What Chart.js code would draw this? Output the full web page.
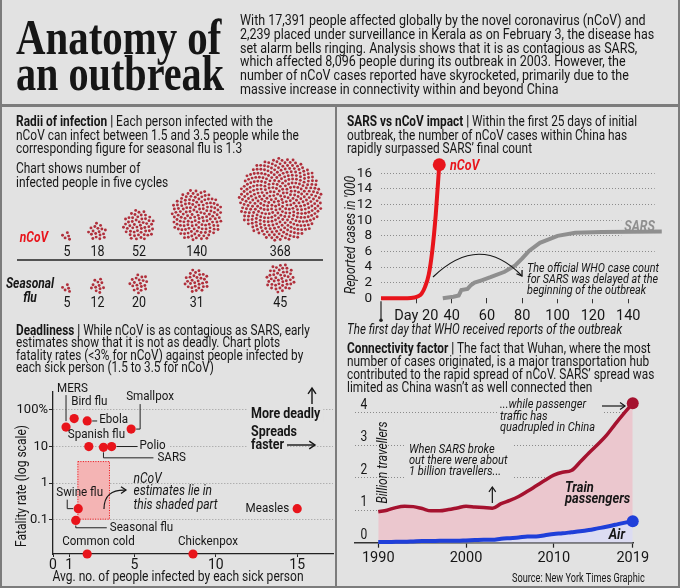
<!DOCTYPE html>
<html lang="en">
<head>
<meta charset="utf-8">
<title>Anatomy of an outbreak</title>
<script src="https://cdn.jsdelivr.net/npm/chart.js@4.4.1/dist/chart.umd.min.js"></script>
<style>
html,body{margin:0;padding:0;background:#e2e2e2;}
#page{position:relative;width:680px;height:588px;overflow:hidden;background:#e2e2e2;color:#161616;font-family:Roboto,"Noto Sans",sans-serif;}
#page canvas{position:absolute;left:0;top:0;}
.rule{position:absolute;background:#7c7c7c;}
.blk{position:absolute;white-space:nowrap;transform-origin:0 0;font-size:15px;line-height:13.4px;}
.blk b{font-weight:700;}
.ttl{font-family:"Liberation Serif","DejaVu Serif",serif;font-weight:700;font-size:51px;line-height:40px;}
.it{font-style:italic;}
</style>
</head>
<body>
<div id="page">
<canvas id="cRadii" width="680" height="588"></canvas>
<canvas id="cDead" width="680" height="588"></canvas>
<canvas id="cSars" width="680" height="588"></canvas>
<canvas id="cConn" width="680" height="588"></canvas>

<div class="rule" style="left:0;top:0;width:2px;height:588px"></div>
<div class="rule" style="left:678px;top:0;width:2px;height:588px"></div>
<div class="rule" style="left:0;top:586px;width:680px;height:2px"></div>
<div class="rule" style="left:0;top:104px;width:680px;height:3px"></div>
<div class="rule" style="left:335px;top:105px;width:2px;height:483px"></div>

<div class="blk ttl" data-w="205" style="left:16px;top:17px">Anatomy of</div>
<div class="blk ttl" data-w="208" style="left:16px;top:53px">an outbreak</div>

<div class="blk" data-w="414" style="left:240px;top:14px;font-size:15.5px;line-height:13.8px">
<div>With 17,391 people affected globally by the novel coronavirus (nCoV) and</div>
<div>2,239 placed under surveillance in Kerala as on February 3, the disease has</div>
<div>set alarm bells ringing. Analysis shows that it is as contagious as SARS,</div>
<div>which affected 8,096 people during its outbreak in 2003. However, the</div>
<div>number of nCoV cases reported have skyrocketed, primarily due to the</div>
<div>massive increase in connectivity within and beyond China</div>
</div>

<div class="blk" data-w="283" style="left:16px;top:115.3px;line-height:13.3px">
<div><b>Radii of infection |</b> Each person infected with the</div>
<div>nCoV can infect between 1.5 and 3.5 people while the</div>
<div>corresponding figure for seasonal flu is 1.3</div>
</div>
<div class="blk" data-w="152" style="left:16px;top:161px;line-height:14px">
<div>Chart shows number of</div>
<div>infected people in five cycles</div>
</div>

<div class="blk" data-w="294" style="left:16px;top:323.7px;line-height:12.6px">
<div><b>Deadliness |</b> While nCoV is as contagious as SARS, early</div>
<div>estimates show that it is not as deadly. Chart plots</div>
<div>fatality rates (&lt;3% for nCoV) against people infected by</div>
<div>each sick person (1.5 to 3.5 for nCoV)</div>
</div>

<div class="blk" data-w="290" style="left:347px;top:115px;line-height:13.6px">
<div><b>SARS vs nCoV impact |</b> Within the first 25 days of initial</div>
<div>outbreak, the number of nCoV cases within China has</div>
<div>rapidly surpassed SARS’ final count</div>
</div>
<div class="blk it" data-w="275" style="left:347px;top:322px;line-height:14px">
<div>The first day that WHO received reports of the outbreak</div>
</div>

<div class="blk" data-w="307" style="left:347px;top:341.8px;line-height:13px">
<div><b>Connectivity factor |</b> The fact that Wuhan, where the most</div>
<div>number of cases originated, is a major transportation hub</div>
<div>contributed to the rapid spread of nCoV. SARS’ spread was</div>
<div>limited as China wasn’t as well connected then</div>
</div>

<div class="blk" data-w="133" style="left:512px;top:571px;font-size:12px;line-height:14px">
<div>Source: New York Times Graphic</div>
</div>
</div>

<script>
// ================= DATA =================
// Radii of infection: infected people after each of five cycles
const radiiCycles = ['Cycle 1', 'Cycle 2', 'Cycle 3', 'Cycle 4', 'Cycle 5'];
const ncovInfected = [5, 18, 52, 140, 368];
const fluInfected = [5, 12, 20, 31, 45];

// Deadliness
const diseases = ['MERS', 'Bird flu', 'Ebola', 'Smallpox', 'Spanish flu', 'SARS', 'Polio', 'Swine flu', 'Seasonal flu', 'Common cold', 'Chickenpox', 'Measles'];
const infectedPerSickPerson = [0.8, 1.3, 2.1, 4.8, 2.2, 3.1, 3.6, 1.55, 1.4, 2.1, 8.6, 15];
const fatalityRatePct = [34, 58, 50, 30, 10, 9.5, 10, 0.2, 0.095, 0.0115, 0.0115, 0.2];
const ncovInfectedRange = [1.5, 3.5];
const ncovFatalityRange = [0.1, 4];
const deadXTicks = [0, 1, 5, 10, 15];
const deadYTicks = [0.1, 1, 10, 100];

// SARS vs nCoV: reported cases ('000) by day of outbreak
const ncovDays = [0, 15, 19, 21, 23, 25, 27, 29, 31, 33];
const ncovCases = [0, 0, 0.1, 0.25, 0.6, 1.5, 3.0, 6.0, 10.7, 17.1];
const sarsDays = [35, 41, 44, 45.5, 49, 51, 53, 57, 62, 70, 76, 80, 84, 90, 100, 110, 125, 159];
const sarsCases = [0, 0.2, 0.35, 1.05, 1.2, 1.7, 2.0, 2.3, 2.7, 3.4, 4.2, 5.1, 6.1, 7.1, 8.0, 8.4, 8.5, 8.55];
const sarsXTicks = [20, 40, 60, 80, 100, 120, 140];
const sarsYTicks = [0, 2, 4, 6, 8, 10, 12, 14, 16];

// Connectivity: billion travellers in China
const years = [1990, 1991, 1992, 1993, 1994, 1995, 1996, 1997, 1998, 1999, 2000, 2001, 2002, 2003, 2004, 2005, 2006, 2007, 2008, 2009, 2010, 2011, 2012, 2013, 2014, 2015, 2016, 2017, 2018, 2019];
const airPassengers = [0.02, 0.02, 0.03, 0.03, 0.04, 0.05, 0.05, 0.06, 0.06, 0.06, 0.07, 0.08, 0.09, 0.09, 0.12, 0.14, 0.16, 0.19, 0.19, 0.23, 0.27, 0.29, 0.32, 0.35, 0.39, 0.44, 0.49, 0.55, 0.61, 0.66];
const trainPassengers = [0.93, 0.98, 1.05, 1.09, 1.07, 1.00, 0.93, 0.92, 0.96, 1.01, 1.05, 1.02, 0.99, 0.97, 1.08, 1.16, 1.26, 1.39, 1.56, 1.69, 1.81, 1.88, 1.90, 2.13, 2.37, 2.58, 2.81, 3.10, 3.37, 3.63];
const connXTicks = [1990, 2000, 2010, 2019];
const connYTicks = [0, 1, 2, 3, 4];

// ================= HELPERS =================
const INK = '#161616', BG = '#e2e2e2', COND = 0.86;
const FF = 'Roboto, "Noto Sans", sans-serif';
Chart.defaults.font.family = FF;
Chart.defaults.color = INK;
Chart.defaults.animation = false;
Chart.defaults.responsive = false;
Chart.defaults.plugins.legend.display = false;
Chart.defaults.plugins.tooltip.enabled = false;
Chart.defaults.events = [];

function fontStr(o) { return (o.italic ? 'italic ' : '') + (o.bold ? '700 ' : '400 ') + (o.size || 13) + 'px ' + FF; }
function box(ctx, s, x, o) {
  ctx.font = fontStr(o);
  const k = o.k || COND;
  const w = ctx.measureText(s).width * k;
  const x0 = o.align === 'center' ? x - w / 2 : o.align === 'right' ? x - w : x;
  return { x0, w, k };
}
function T(ctx, s, x, y, o = {}) {
  ctx.save();
  const { x0, k } = box(ctx, s, x, o);
  ctx.fillStyle = o.color || INK;
  ctx.textBaseline = 'middle'; ctx.textAlign = 'left';
  ctx.translate(x0, y); ctx.scale(k, 1);
  ctx.fillText(s, 0, 0);
  ctx.restore();
}
function M(ctx, s, x, y, o = {}) {
  ctx.save();
  const { x0, w } = box(ctx, s, x, o);
  const sz = o.size || 13;
  ctx.fillStyle = BG;
  ctx.fillRect(x0 - 3, y - sz * 0.62, w + 6, sz * 1.24);
  ctx.restore();
}
function TR(ctx, s, x, y, o = {}) {
  ctx.save();
  ctx.font = fontStr(o);
  const k = o.k || COND;
  const w = ctx.measureText(s).width;
  ctx.fillStyle = o.color || INK;
  ctx.textBaseline = 'middle'; ctx.textAlign = 'left';
  ctx.translate(x, y); ctx.rotate(-Math.PI / 2); ctx.scale(k, 1);
  ctx.fillText(s, -w / 2, 0);
  ctx.restore();
}
function poly(ctx, pts, o = {}) {
  ctx.save();
  ctx.strokeStyle = o.color || INK; ctx.lineWidth = o.lw || 1;
  ctx.beginPath(); ctx.moveTo(pts[0][0], pts[0][1]);
  for (let i = 1; i < pts.length; i++) ctx.lineTo(pts[i][0], pts[i][1]);
  ctx.stroke(); ctx.restore();
}
function head(ctx, x1, y1, x2, y2, o = {}) {
  const a = Math.atan2(y2 - y1, x2 - x1), h = o.h || 6;
  ctx.save();
  ctx.strokeStyle = o.color || INK; ctx.lineWidth = o.lw || 1.3;
  ctx.beginPath();
  ctx.moveTo(x2 - h * Math.cos(a - 0.6), y2 - h * Math.sin(a - 0.6));
  ctx.lineTo(x2, y2);
  ctx.lineTo(x2 - h * Math.cos(a + 0.6), y2 - h * Math.sin(a + 0.6));
  ctx.stroke(); ctx.restore();
}
function arrow(ctx, pts, o = {}) {
  poly(ctx, pts, o);
  const n = pts.length;
  head(ctx, pts[n - 2][0], pts[n - 2][1], pts[n - 1][0], pts[n - 1][1], o);
}

// ================= RADII OF INFECTION =================
const U = 2.2, RX0 = 63, RY0 = 240, FLU_Y = 293, GAP = 7.6;
const FLU_BASE = -(FLU_Y - RY0) / U;
const colX = [];
ncovInfected.forEach((n, i) => {
  colX.push(i === 0 ? 0 : colX[i - 1] + Math.sqrt(ncovInfected[i - 1]) + Math.sqrt(n) + GAP);
});
const radiiPlugin = {
  id: 'radii',
  beforeDatasetDraw(chart, args) {
    const ctx = chart.ctx, xs = chart.scales.x;
    const u = xs.getPixelForValue(1) - xs.getPixelForValue(0);
    const ds = chart.data.datasets[args.index];
    args.meta.data.forEach((el, i) => {
      const n = ds.data[i].n;
      ctx.save();
      ctx.fillStyle = '#b02f3b';
      for (let k = 0; k < n; k++) {
        const rr = u * Math.sqrt(k + 0.5), th = k * 2.399963;
        ctx.beginPath();
        ctx.arc(el.x + rr * Math.cos(th), el.y + rr * Math.sin(th), 1.45, 0, Math.PI * 2);
        ctx.fill();
      }
      ctx.restore();
      T(ctx, String(n), el.x, el.y + u * Math.sqrt(n) + (args.index === 0 ? 11 : 10), { align: 'center', size: 14.5 });
    });
    return false;
  },
  afterDraw(chart) {
    const ctx = chart.ctx;
    T(ctx, 'nCoV', 34, 238, { align: 'center', size: 14, bold: true, italic: true, color: '#e8141b' });
    T(ctx, 'Seasonal', 30, 284, { align: 'center', size: 14, bold: true, italic: true });
    T(ctx, 'flu', 30, 298, { align: 'center', size: 14, bold: true, italic: true });
    poly(ctx, [[17, 260], [323, 260]], { lw: 1.5, color: '#222' });
  }
};
new Chart(document.getElementById('cRadii'), {
  type: 'bubble',
  data: {
    labels: radiiCycles,
    datasets: [
      { label: 'nCoV', data: ncovInfected.map((n, i) => ({ x: colX[i], y: Math.sqrt(n), n })) },
      { label: 'Seasonal flu', data: fluInfected.map((n, i) => ({ x: colX[i], y: FLU_BASE + Math.sqrt(n), n })) }
    ]
  },
  options: {
    layout: { padding: 0 },
    scales: {
      x: { type: 'linear', display: false, min: -RX0 / U, max: (680 - RX0) / U },
      y: { type: 'linear', display: false, min: -(588 - RY0) / U, max: RY0 / U }
    }
  },
  plugins: [radiiPlugin]
});

// ================= DEADLINESS =================
const deadLabelLayout = {
  'MERS': { dx: -9, dy: -38, lead: [[0, -32], [0, -6]] },
  'Bird flu': { dx: -3, dy: -16.5 },
  'Ebola': { dx: 12, dy: -1, lead: [[5, 0], [10, 0]] },
  'Smallpox': { dx: -5, dy: -32, lead: [[5, 0], [9, 0], [9, -25]] },
  'Spanish flu': { dx: -21, dy: -12 },
  'SARS': { dx: 54, dy: 10.5, lead: [[0, 5], [0, 10.5], [50, 10.5]] },
  'Polio': { dx: 28, dy: -1, lead: [[5, 0], [26, 0]], bg: true },
  'Swine flu': { dx: -22, dy: -16, lead: [[-11, -9], [-11, 0], [-5, 0]] },
  'Seasonal flu': { dx: 34, dy: 6.8, lead: [[0, 5], [0, 7.3], [31, 7.3]] },
  'Common cold': { dx: -25, dy: -12 },
  'Chickenpox': { dx: -15, dy: -12 },
  'Measles': { dx: -8, dy: 0, align: 'right' }
};
const deadPlugin = {
  id: 'dead',
  beforeDatasetsDraw(chart) {
    const { ctx, scales: { x, y } } = chart;
    const l = x.getPixelForValue(ncovInfectedRange[0]), r = x.getPixelForValue(ncovInfectedRange[1]);
    const t = y.getPixelForValue(ncovFatalityRange[1]), b = y.getPixelForValue(ncovFatalityRange[0]);
    ctx.save();
    ctx.fillStyle = '#f4b4b4';
    ctx.fillRect(l, t, r - l, b - t);
    ctx.strokeStyle = '#e8141b'; ctx.lineWidth = 1; ctx.setLineDash([1, 1.5]);
    ctx.strokeRect(l + 0.5, t + 0.5, r - l - 1, b - t - 1);
    ctx.restore();
    M(ctx, 'More deadly', 251, 414, { bold: true, size: 14.5 });
    M(ctx, 'faster', 251, 445, { bold: true, size: 14.5 });
    const meta = chart.getDatasetMeta(0);
    diseases.forEach((d, i) => {
      const L = deadLabelLayout[d]; if (!L.bg) return;
      const el = meta.data[i];
      M(ctx, d, el.x + L.dx, el.y + L.dy, { size: 13.5, align: L.align });
    });
  },
  afterDatasetsDraw(chart) {
    const ctx = chart.ctx;
    const meta = chart.getDatasetMeta(0);
    diseases.forEach((d, i) => {
      const L = deadLabelLayout[d];
      const el = meta.data[i];
      if (L.lead) poly(ctx, L.lead.map(p => [el.x + p[0], el.y + p[1]]), { lw: 1, color: '#222' });
      T(ctx, d, el.x + L.dx, el.y + L.dy, { size: 13.5, align: L.align });
    });
    // nCoV note
    const xs = chart.scales.x, ys = chart.scales.y;
    const rx = xs.getPixelForValue(ncovInfectedRange[1]), ty = ys.getPixelForValue(ncovFatalityRange[1]);
    const tx = rx + 23.5, t0 = ty + 18;
    T(ctx, 'nCoV', tx, t0, { italic: true, size: 14 });
    T(ctx, 'estimates lie in', tx, t0 + 12.5, { italic: true, size: 14 });
    T(ctx, 'this shaded part', tx, t0 + 26, { italic: true, size: 14 });
    ctx.save();
    ctx.strokeStyle = INK; ctx.lineWidth = 1.2;
    ctx.beginPath(); ctx.moveTo(rx - 6, t0 + 30); ctx.quadraticCurveTo(rx - 6, t0 + 10, rx + 16, t0 + 11); ctx.stroke();
    ctx.restore();
    head(ctx, rx + 8, t0 + 11, rx + 16, t0 + 11, { h: 6 });
    // direction cues
    T(ctx, 'More deadly', 251, 414, { bold: true, size: 14.5 });
    arrow(ctx, [[312, 404], [312, 388]], { lw: 1.4, h: 7 });
    T(ctx, 'Spreads', 251, 432, { bold: true, size: 14.5 });
    T(ctx, 'faster', 251, 445, { bold: true, size: 14.5 });
    arrow(ctx, [[287, 445], [315, 445]], { lw: 1.4, h: 7 });
    // axis titles
    TR(ctx, 'Fatality rate (log scale)', 22, 486, { size: 14 });
    T(ctx, 'Avg. no. of people infected by each sick person', 178, 577, { size: 14, align: 'center' });
  }
};
new Chart(document.getElementById('cDead'), {
  type: 'scatter',
  data: {
    labels: diseases,
    datasets: [{
      label: 'Fatality rate',
      data: diseases.map((d, i) => ({ x: infectedPerSickPerson[i], y: fatalityRatePct[i] })),
      pointRadius: 4.6, pointBackgroundColor: '#e8141b', pointBorderWidth: 0, clip: false
    }]
  },
  options: {
    layout: { padding: { left: 13, top: 392, right: 347, bottom: 0 } },
    scales: {
      x: {
        type: 'linear', min: 0, max: 17.2,
        afterFit: s => { s.height = 34; },
        afterBuildTicks: s => { s.ticks = deadXTicks.map(v => ({ value: v })); },
        grid: { drawOnChartArea: false, tickLength: 3, tickColor: '#222' },
        border: { color: '#222', width: 1.3 },
        ticks: { autoSkip: false, maxRotation: 0, padding: 0, font: { size: 14 }, callback: v => String(v) }
      },
      y: {
        type: 'logarithmic', min: 0.0115, max: 310,
        afterFit: s => { s.width = 40; },
        afterBuildTicks: s => { s.ticks = deadYTicks.map(v => ({ value: v })); },
        grid: { color: '#9a9a9a', lineWidth: 1, tickLength: 4, tickColor: '#222' },
        border: { color: '#222', width: 1.3, dash: [1, 2] },
        ticks: { autoSkip: false, padding: 1, font: { size: 13 }, callback: v => (v === 100 ? '100%' : String(v)) }
      }
    }
  },
  plugins: [deadPlugin]
});

// ================= SARS vs nCoV =================
const sarsNote = ['The official WHO case count', 'for SARS was delayed at the', 'beginning of the outbreak'];
const NOTE = { italic: true, size: 13.5, k: 0.8 };
const sarsPlugin = {
  id: 'sars',
  beforeDatasetsDraw(chart) {
    const ctx = chart.ctx;
    M(ctx, 'SARS', 655, 227, { bold: true, italic: true, size: 14.5, align: 'right' });
    sarsNote.forEach((s, i) => M(ctx, s, 527, 269 + i * 10.8, NOTE));
  },
  afterDatasetsDraw(chart) {
    const ctx = chart.ctx, xs = chart.scales.x, ys = chart.scales.y;
    T(ctx, 'nCoV', 450, 166, { bold: true, italic: true, size: 14.5, color: '#e8141b' });
    T(ctx, 'SARS', 655, 227, { bold: true, italic: true, size: 14.5, align: 'right', color: '#8f8f8f' });
    sarsNote.forEach((s, i) => T(ctx, s, 527, 269 + i * 10.8, NOTE));
    ctx.save();
    ctx.strokeStyle = INK; ctx.lineWidth = 1.2;
    ctx.beginPath(); ctx.moveTo(433, 277); ctx.quadraticCurveTo(480, 232, 522, 276); ctx.stroke();
    ctx.restore();
    head(ctx, 514, 264, 522, 276, { h: 6 });
    // first-day marker
    const x0 = xs.getPixelForValue(0), y0 = ys.getPixelForValue(0);
    poly(ctx, [[x0, y0 + 3], [x0, y0 + 21]], { lw: 1.2, color: '#222' });
    ctx.save(); ctx.fillStyle = '#222'; ctx.beginPath(); ctx.arc(x0, y0 + 22, 1.8, 0, Math.PI * 2); ctx.fill(); ctx.restore();
    TR(ctx, "Reported cases in '000", 351, 235, { italic: true, size: 14 });
  }
};
new Chart(document.getElementById('cSars'), {
  type: 'line',
  data: {
    datasets: [
      {
        label: 'nCoV', data: ncovDays.map((d, i) => ({ x: d, y: ncovCases[i] })),
        borderColor: '#e8141b', borderWidth: 4, cubicInterpolationMode: 'monotone',
        pointRadius: c => (c.dataIndex === ncovDays.length - 1 ? 6.5 : 0),
        pointBackgroundColor: '#e8141b', pointBorderWidth: 0, clip: false
      },
      {
        label: 'SARS', data: sarsDays.map((d, i) => ({ x: d, y: sarsCases[i] })),
        borderColor: '#8f8f8f', borderWidth: 4, tension: 0, pointRadius: 0, clip: false
      }
    ]
  },
  options: {
    layout: { padding: { left: 340, top: 157.7, right: 25.3, bottom: 253 } },
    scales: {
      x: {
        type: 'linear', min: 0, max: 155,
        afterFit: s => { s.height = 36.7; },
        afterBuildTicks: s => { s.ticks = sarsXTicks.map(v => ({ value: v })); },
        grid: { drawOnChartArea: false, tickLength: 5, tickColor: '#333', tickWidth: 1 },
        border: { display: false },
        ticks: { autoSkip: false, maxRotation: 0, padding: 4, font: { size: 14.5 }, callback: v => (v === 20 ? 'Day 20' : String(v)) }
      },
      y: {
        type: 'linear', min: 0, max: 18,
        afterFit: s => { s.width = 41; },
        afterBuildTicks: s => { s.ticks = sarsYTicks.map(v => ({ value: v })); },
        grid: { drawTicks: false, lineWidth: 1, color: c => (c.tick && c.tick.value === 0 ? 'rgba(0,0,0,0)' : '#8c8c8c') },
        border: { display: false, dash: [1, 2] },
        ticks: { autoSkip: false, padding: 9, font: { size: 13.5 } }
      }
    }
  },
  plugins: [sarsPlugin]
});

// ================= CONNECTIVITY =================
const noteA = ['...while passenger', 'traffic has', 'quadrupled in China'];
const noteB = ['When SARS broke', 'out there were about', '1 billion travellers...'];
const connPlugin = {
  id: 'conn',
  beforeDatasetsDraw(chart) {
    const ctx = chart.ctx;
    ctx.save(); ctx.fillStyle = BG;
    ctx.fillRect(499, 399, 103, 35);
    ctx.fillRect(405, 443, 108, 38);
    ctx.restore();
  },
  afterDatasetsDraw(chart) {
    const ctx = chart.ctx, xs = chart.scales.x, ys = chart.scales.y;
    connYTicks.forEach(v => T(ctx, String(v), 364, ys.getPixelForValue(v) - 7.7, { size: 14, align: 'center' }));
    noteA.forEach((s, i) => T(ctx, s, 500, 405 + i * 11.2, { italic: true, size: 13.5, k: 0.82 }));
    arrow(ctx, [[602, 406], [625, 406]], { lw: 1.2, h: 6 });
    noteB.forEach((s, i) => T(ctx, s, 409, 450 + i * 11, { italic: true, size: 13.5, k: 0.82 }));
    const xs03 = xs.getPixelForValue(2003);
    arrow(ctx, [[xs03, 503], [xs03, 487]], { lw: 1.2, h: 6 });
    T(ctx, 'Train', 565, 488, { bold: true, italic: true, size: 15 });
    T(ctx, 'passengers', 565, 499.5, { bold: true, italic: true, size: 15 });
    T(ctx, 'Air', 625, 535, { bold: true, italic: true, size: 15, align: 'right' });
    TR(ctx, 'Billion travellers', 383, 462.5, { italic: true, size: 14 });
  }
};
new Chart(document.getElementById('cConn'), {
  type: 'line',
  data: {
    datasets: [
      {
        label: 'Air', data: years.map((yr, i) => ({ x: yr, y: airPassengers[i] })),
        borderColor: '#1f3fd9', borderWidth: 4, backgroundColor: '#dcdcf2', fill: 'origin',
        cubicInterpolationMode: 'monotone',
        pointRadius: c => (c.dataIndex === years.length - 1 ? 6 : 0),
        pointBackgroundColor: '#1f3fd9', pointBorderWidth: 0, clip: false
      },
      {
        label: 'Train passengers', data: years.map((yr, i) => ({ x: yr, y: trainPassengers[i] })),
        borderColor: '#a5122f', borderWidth: 3.5, backgroundColor: '#ebc7ce', fill: '-1',
        cubicInterpolationMode: 'monotone',
        pointRadius: c => (c.dataIndex === years.length - 1 ? 6 : 0),
        pointBackgroundColor: '#a5122f', pointBorderWidth: 0, clip: false
      }
    ]
  },
  options: {
    layout: { padding: { left: 355, top: 396.45, right: 47, bottom: 20.3 } },
    scales: {
      x: {
        type: 'linear', min: 1987.35, max: 2019.03,
        afterFit: s => { s.height = 25; },
        afterBuildTicks: s => { s.ticks = connXTicks.map(v => ({ value: v })); },
        grid: { drawOnChartArea: false, tickLength: 5, tickColor: '#222', tickWidth: 1.2 },
        border: { color: '#333', width: 1.6 },
        ticks: { autoSkip: false, maxRotation: 0, padding: 2, font: { size: 14.5 }, callback: v => String(v) }
      },
      y: {
        type: 'linear', stacked: true, min: 0, max: 4.5,
        afterFit: s => { s.width = 0; },
        afterBuildTicks: s => { s.ticks = connYTicks.map(v => ({ value: v })); },
        grid: { drawTicks: false, lineWidth: 1, color: c => (c.tick && c.tick.value === 0 ? 'rgba(0,0,0,0)' : '#8a8a8a') },
        border: { display: false, dash: [1, 2] },
        ticks: { display: false }
      }
    }
  },
  plugins: [connPlugin]
});

// ================= fit HTML text blocks to reference widths =================
document.querySelectorAll('.blk[data-w]').forEach(b => {
  const tw = parseFloat(b.dataset.w), w = b.offsetWidth;
  if (tw && w) b.style.transform = 'scaleX(' + (tw / w).toFixed(4) + ')';
});
</script>
</body>
</html>
